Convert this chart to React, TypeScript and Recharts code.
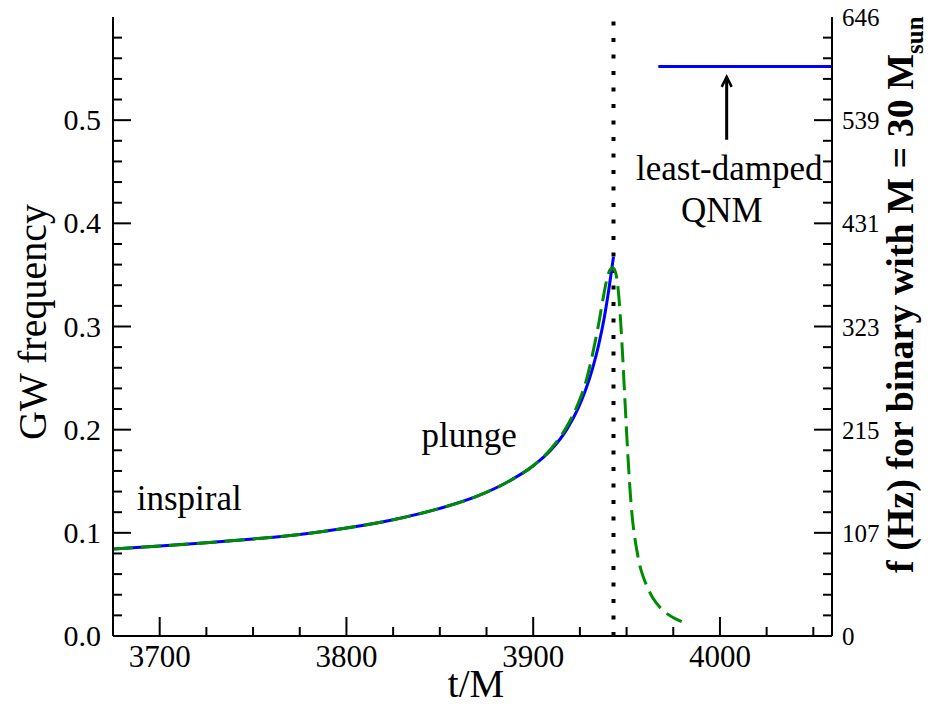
import React from "react";
import { LineChart, Line, XAxis, YAxis, ReferenceLine, ReferenceDot } from "recharts";

if (typeof document !== "undefined") document.body.style.margin = "0";

const SERIF = "Liberation Serif, DejaVu Serif, serif";

// numerical-relativity frequency (solid blue)
const nrT = [3675, 3700, 3725, 3750, 3775, 3800, 3825, 3850, 3870, 3887.5, 3900, 3910, 3918, 3924, 3928, 3932, 3935, 3938, 3940.5, 3943];
const nrF = [0.0843, 0.0872, 0.0904, 0.0941, 0.0984, 0.1046, 0.1127, 0.1237, 0.1355, 0.1505, 0.165, 0.1812, 0.2003, 0.2204, 0.2381, 0.2606, 0.2817, 0.3079, 0.3358, 0.3676];

// model frequency (dashed green)
const modelT = [3675, 3700, 3725, 3750, 3775, 3800, 3825, 3850, 3870, 3887.5, 3900, 3910, 3918, 3924, 3928, 3932, 3935, 3937.5, 3939.5, 3941, 3942.5, 3943.8, 3945, 3946, 3947, 3948, 3949, 3950, 3951, 3952, 3953, 3954.1, 3955.5, 3957, 3959, 3961, 3964, 3968, 3972, 3976, 3979.5];
const modelF = [0.0843, 0.0872, 0.0904, 0.0941, 0.0984, 0.1046, 0.1127, 0.1237, 0.1355, 0.1505, 0.165, 0.1825, 0.203, 0.225, 0.245, 0.275, 0.302, 0.328, 0.346, 0.3545, 0.357, 0.354, 0.344, 0.326, 0.3, 0.268, 0.233, 0.198, 0.166, 0.138, 0.116, 0.099, 0.083, 0.069, 0.057, 0.048, 0.037, 0.0275, 0.0212, 0.0168, 0.0139];

// least-damped QNM frequency
const qnmT = [3967, 4060];
const qnmF = [0.552, 0.552];

const mergerT = 3943;
const arrowT = 4003.6;
const arrowF = [0.481, 0.542];

const noteText = ["inspiral", "plunge", "least-damped", "QNM"];
const noteT = [3687.7, 3840.2, 4005, 4001];
const noteF = [0.1221, 0.1835, 0.442, 0.4016];
const noteAnchor = ["start", "start", "middle", "middle"];

const xMajor = [3700, 3800, 3900, 4000];
const xTicks = [3700, 3725, 3750, 3775, 3800, 3825, 3850, 3875, 3900, 3925, 3950, 3975, 4000, 4025, 4050];
const yMajor = [0, 0.1, 0.2, 0.3, 0.4, 0.5, 0.6];
const yLeftLabels = ["0.0", "0.1", "0.2", "0.3", "0.4", "0.5", ""];
const yRightLabels = ["0", "107", "215", "323", "431", "539", "646"];
const yTicks = Array.from({ length: 31 }, (_, i) => Math.round(i * 2) / 100);

const nrData = nrT.map((t, i) => ({ t, f: nrF[i] }));
const modelData = modelT.map((t, i) => ({ t, f: modelF[i] }));
const qnmData = qnmT.map((t, i) => ({ t, f: qnmF[i] }));

const majorIndex = (v: number) => yMajor.findIndex((m) => Math.abs(m - v) < 1e-6);

const txt = { fontFamily: SERIF, fill: "#000" } as const;

const BottomTick = (props: any) => {
  const { x, y, payload } = props;
  const major = xMajor.includes(payload.value);
  return (
    <g>
      <line x1={x} y1={y} x2={x} y2={y - (major ? 19 : 9)} stroke="#000" strokeWidth={2} />
      {major && (
        <text x={x} y={y + 31} textAnchor="middle" fontSize={31} style={txt}>
          {payload.value}
        </text>
      )}
    </g>
  );
};

const TopTick = (props: any) => {
  const { x, y, payload } = props;
  const major = xMajor.includes(payload.value);
  return <line x1={x} y1={y} x2={x} y2={y + (major ? 19 : 9)} stroke="#000" strokeWidth={2} />;
};

const LeftTick = (props: any) => {
  const { x, y, payload } = props;
  const k = majorIndex(payload.value);
  if (payload.value > 0.59) return <g />;
  return (
    <g>
      <line x1={x} y1={y} x2={x + (k >= 0 ? 18 : 9)} y2={y} stroke="#000" strokeWidth={2} />
      {k >= 0 && (
        <text x={x - 12} y={y + 10} textAnchor="end" fontSize={30} style={txt}>
          {yLeftLabels[k]}
        </text>
      )}
    </g>
  );
};

const RightTick = (props: any) => {
  const { x, y, payload } = props;
  const k = majorIndex(payload.value);
  return (
    <g>
      {payload.value < 0.59 && (
        <line x1={x} y1={y} x2={x - (k >= 0 ? 18 : 9)} y2={y} stroke="#000" strokeWidth={2} />
      )}
      {k >= 0 && (
        <text x={x + 10} y={y + 9} textAnchor="start" fontSize={25} style={txt}>
          {yRightLabels[k]}
        </text>
      )}
    </g>
  );
};

const ArrowShape = (props: any) => {
  const { x1, y1, x2, y2 } = props;
  const tipY = Math.min(y1, y2);
  const tailY = Math.max(y1, y2);
  const x = x1 ?? x2;
  return (
    <g>
      <line x1={x} y1={tailY} x2={x} y2={tipY + 1} stroke="#000" strokeWidth={3} />
      <polyline points={`${x - 5},${tipY + 10} ${x},${tipY} ${x + 5},${tipY + 10}`} fill="none" stroke="#000" strokeWidth={2.5} />
    </g>
  );
};

const noteShape = (i: number) => (props: any) => (
  <text x={props.cx} y={props.cy} textAnchor={noteAnchor[i] as any} fontSize={35} style={txt}>
    {noteText[i]}
  </text>
);

export default function App() {
  return (
    <div style={{ position: "relative", width: 943, height: 707, background: "#fff" }}>
      <LineChart width={943} height={707} margin={{ top: 17, right: 0, bottom: 0, left: 0 }}>
        <XAxis
          type="number"
          dataKey="t"
          domain={[3675, 4060]}
          allowDataOverflow
          ticks={xTicks}
          interval={0}
          height={71}
          tickSize={0}
          tickMargin={0}
          tickLine={false}
          axisLine={{ stroke: "#000", strokeWidth: 2 }}
          tick={<BottomTick />}
        />
        <XAxis
          xAxisId="top"
          orientation="top"
          type="number"
          dataKey="t"
          domain={[3675, 4060]}
          allowDataOverflow
          ticks={xTicks}
          interval={0}
          height={0}
          tickSize={0}
          tickMargin={0}
          tickLine={false}
          axisLine={{ stroke: "#000", strokeWidth: 2 }}
          tick={<TopTick />}
        />
        <YAxis
          type="number"
          domain={[0, 0.6]}
          allowDataOverflow
          ticks={yTicks}
          interval={0}
          width={113}
          tickSize={0}
          tickMargin={0}
          tickLine={false}
          axisLine={{ stroke: "#000", strokeWidth: 2 }}
          tick={<LeftTick />}
        />
        <YAxis
          yAxisId="right"
          orientation="right"
          type="number"
          domain={[0, 0.6]}
          allowDataOverflow
          ticks={yTicks}
          interval={0}
          width={111}
          tickSize={0}
          tickMargin={0}
          tickLine={false}
          axisLine={{ stroke: "#000", strokeWidth: 2 }}
          tick={<RightTick />}
        />
        <ReferenceLine x={mergerT} stroke="#000" strokeWidth={4} strokeDasharray="4 12.5" />
        <Line data={nrData} dataKey="f" type="monotone" stroke="#0000ff" strokeWidth={3} dot={false} isAnimationActive={false} />
        <Line data={modelData} dataKey="f" type="monotone" stroke="#008c00" strokeWidth={3} strokeDasharray="20 8" dot={false} isAnimationActive={false} />
        <Line data={qnmData} dataKey="f" type="linear" stroke="#0000ff" strokeWidth={3} dot={false} isAnimationActive={false} />
        <ReferenceLine
          segment={[
            { x: arrowT, y: arrowF[0] },
            { x: arrowT, y: arrowF[1] },
          ]}
          shape={ArrowShape}
        />
        {noteText.map((_, i) => (
          <ReferenceDot key={i} x={noteT[i]} y={noteF[i]} r={0} shape={noteShape(i)} />
        ))}
      </LineChart>
      <svg width={943} height={707} style={{ position: "absolute", left: 0, top: 0, pointerEvents: "none" }}>
        <text x={476} y={697} textAnchor="middle" fontSize={39} style={txt}>
          t/M
        </text>
        <text transform="translate(46,322) rotate(-90)" textAnchor="middle" fontSize={40} style={txt}>
          GW frequency
        </text>
        <text transform="translate(913,573) rotate(-90)" textAnchor="start" fontSize={38} fontWeight="bold" style={txt}>
          f (Hz) for binary with M = 30 M
          <tspan fontSize={25} dy={10}>sun</tspan>
        </text>
      </svg>
    </div>
  );
}
